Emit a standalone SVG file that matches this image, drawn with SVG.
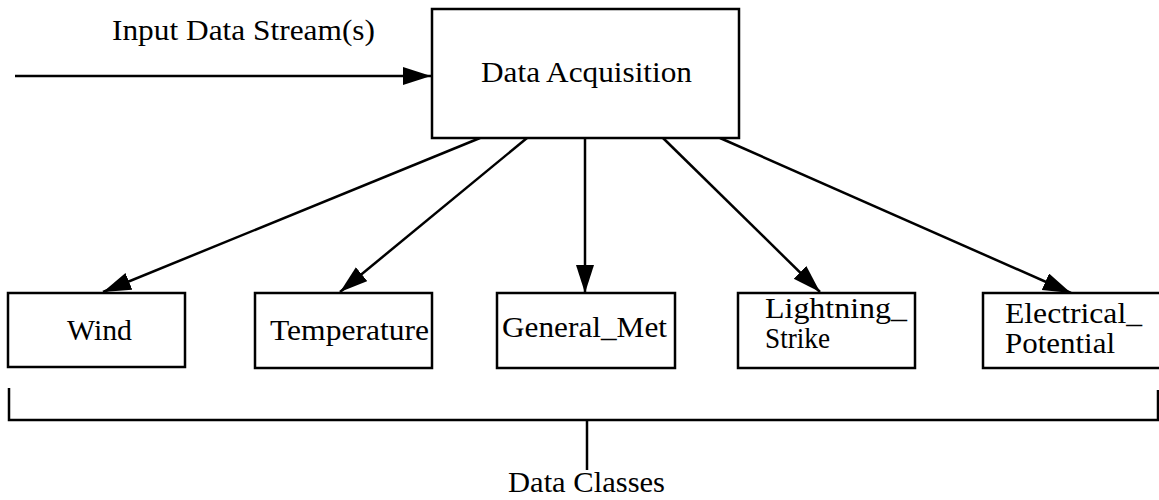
<svg xmlns="http://www.w3.org/2000/svg" width="1159" height="500" viewBox="0 0 1159 500">
<style>
.box{fill:#fff;stroke:#000;stroke-width:2.5}
.ln{fill:none;stroke:#000;stroke-width:2.5}
text{font-family:"Liberation Serif","Times New Roman",serif;font-size:29px;fill:#000}
</style>
<defs>
<marker id="ah" markerUnits="userSpaceOnUse" markerWidth="30" markerHeight="20" refX="28" refY="9" orient="auto">
<path d="M0,0 L28,9 L0,18 z" fill="#000"/>
</marker>
</defs>
<rect width="1159" height="500" fill="#fff"/>
<text x="112" y="40" textLength="263" lengthAdjust="spacingAndGlyphs">Input Data Stream(s)</text>
<g id="connectors">
<line class="ln" x1="15" y1="76" x2="431" y2="76" marker-end="url(#ah)"/>
<line class="ln" x1="480" y1="138" x2="103" y2="292" marker-end="url(#ah)"/>
<line class="ln" x1="527" y1="138" x2="340" y2="292" marker-end="url(#ah)"/>
<line class="ln" x1="585" y1="138" x2="585" y2="293" marker-end="url(#ah)"/>
<line class="ln" x1="663" y1="138" x2="820" y2="292" marker-end="url(#ah)"/>
<line class="ln" x1="720" y1="138" x2="1071" y2="293" marker-end="url(#ah)"/>
<path class="ln" d="M9,388 V420 H1158 V390"/>
<line class="ln" x1="587" y1="420" x2="587" y2="470"/>
</g>
<g id="data-acquisition">
<rect class="box" x="432" y="9" width="307" height="129"/>
<text x="481" y="82" textLength="211" lengthAdjust="spacingAndGlyphs">Data Acquisition</text>
</g>
<g id="wind">
<rect class="box" x="8" y="293" width="177" height="74"/>
<text x="67" y="340" textLength="65" lengthAdjust="spacingAndGlyphs">Wind</text>
</g>
<g id="temperature">
<rect class="box" x="255" y="293" width="177" height="75"/>
<text x="270" y="340" textLength="159" lengthAdjust="spacingAndGlyphs">Temperature</text>
</g>
<g id="general-met">
<rect class="box" x="497" y="293" width="178" height="75"/>
<text x="502" y="337" textLength="165" lengthAdjust="spacingAndGlyphs">General_Met</text>
</g>
<g id="lightning-strike">
<rect class="box" x="738" y="293" width="177" height="75"/>
<text x="765" y="318" textLength="142" lengthAdjust="spacingAndGlyphs">Lightning_</text>
<text x="765" y="348" textLength="65" lengthAdjust="spacingAndGlyphs">Strike</text>
</g>
<g id="electrical-potential">
<rect class="box" x="983" y="293" width="185" height="75"/>
<text x="1005" y="323" textLength="137" lengthAdjust="spacingAndGlyphs">Electrical_</text>
<text x="1005" y="353" textLength="110" lengthAdjust="spacingAndGlyphs">Potential</text>
</g>
<text x="508" y="492" textLength="157" lengthAdjust="spacingAndGlyphs">Data Classes</text>
</svg>
